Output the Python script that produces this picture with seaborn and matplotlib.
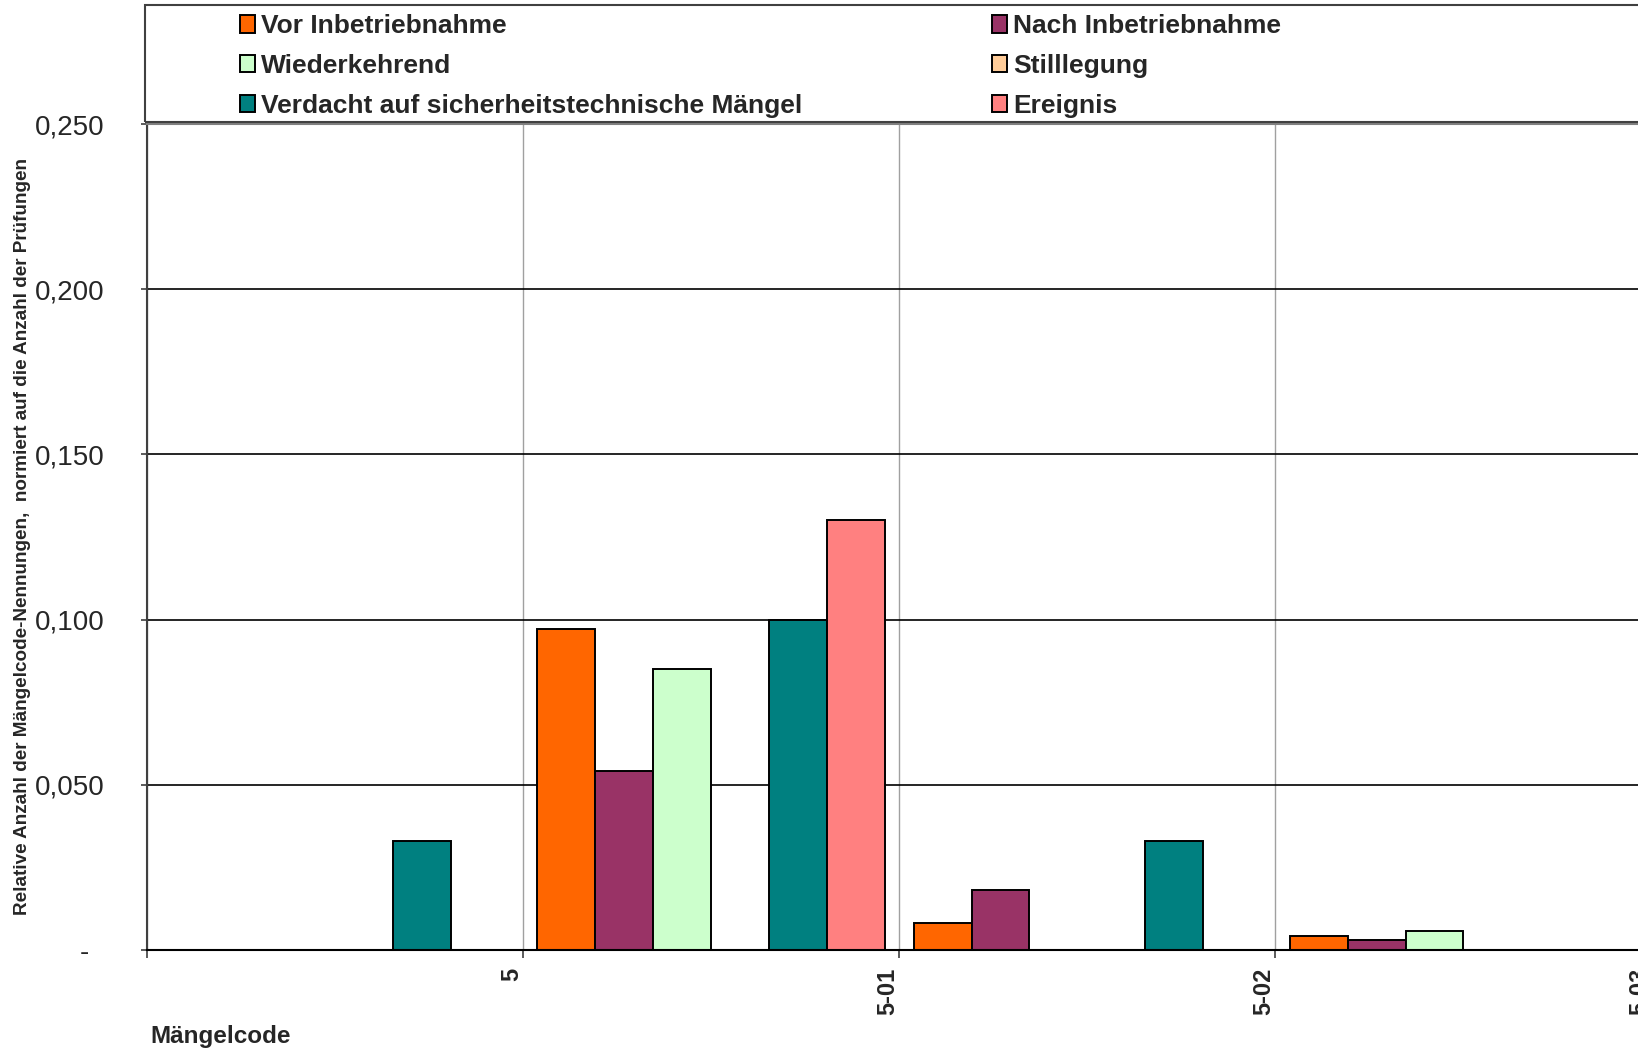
import numpy as np
import pandas as pd
import matplotlib
matplotlib.use("Agg")
import matplotlib.pyplot as plt
from matplotlib.patches import Patch, Rectangle
import seaborn as sns

# Mängelcodes (tick label sits at the right edge of each group)
codes = ["5", "5-01", "5-02", "5-03"]
series = ["Vor Inbetriebnahme", "Nach Inbetriebnahme", "Wiederkehrend",
          "Stilllegung", "Verdacht auf sicherheitstechnische Mängel", "Ereignis"]
colors = ["#FF6600", "#993366", "#CCFFCC", "#FFCC99", "#008080", "#FF8080"]

# relative values per series, one entry per group
vor = [0.0, 0.097, 0.008, 0.004]
nach = [0.0, 0.054, 0.018, 0.003]
wieder = [0.0, 0.085, 0.0, 0.0057]
still = [0.0, 0.0, 0.0, 0.0]
verdacht = [0.033, 0.100, 0.033, 0.0]
ereignis = [0.0, 0.130, 0.0, 0.0]

yticks = [0.0, 0.05, 0.10, 0.15, 0.20, 0.25]
ytick_labels = ["-  ", "0,050", "0,100", "0,150", "0,200", "0,250"]

values = [vor, nach, wieder, still, verdacht, ereignis]
df = pd.DataFrame({
    "code": codes * len(series),
    "serie": np.repeat(series, len(codes)),
    "wert": np.concatenate(values),
})

sns.set_style("white")
plt.rcParams["font.family"] = ["Liberation Sans", "DejaVu Sans"]

fig = plt.figure(figsize=(16.38, 10.52), dpi=100)
ax = fig.add_axes([0.0898, 0.0973, 0.9414, 0.7845])

sns.barplot(data=df, x="code", y="wert", hue="serie", order=codes,
            hue_order=series, palette=dict(zip(series, colors)),
            saturation=1, width=0.924, edgecolor="black", linewidth=1.4,
            legend=False, ax=ax)

ax.set_xlim(-0.5, 3.6)
ax.set_ylim(0, 0.25)
ax.set_axisbelow(True)

# gridlines: black horizontal, grey vertical at the group borders
ax.set_yticks(yticks)
ax.set_yticklabels(ytick_labels, fontsize=20)
ax.set_xticks(np.arange(-0.5, 4.0, 1.0))
ax.set_xticklabels([""] + codes, fontsize=17, fontweight="bold",
                   rotation=90, ha="right")
ax.yaxis.grid(True, color="black", lw=1.2)
ax.xaxis.grid(True, color="#a0a0a0", lw=1.0)
ax.tick_params(axis="y", direction="out", length=4.5, width=1.2, pad=26,
               left=True, color="#404040")
ax.tick_params(axis="x", direction="out", length=6, width=1.2, pad=7,
               bottom=True, color="#404040")

for side in ["left", "bottom", "top", "right"]:
    ax.spines[side].set_visible(True)
ax.spines["left"].set_color("#404040")
ax.spines["left"].set_linewidth(1.5)
ax.spines["bottom"].set_color("black")
ax.spines["bottom"].set_linewidth(1.5)
ax.spines["top"].set_color("#808080")
ax.spines["top"].set_linewidth(1.5)

ax.set_xlabel("")
ax.set_ylabel("")
fig.text(23 / 1638, 0.4897,
         "Relative Anzahl der Mängelcode-Nennungen,  normiert auf die Anzahl der Prüfungen",
         rotation=90, ha="center", va="center", fontsize=13.6, fontweight="bold")
fig.text(150 / 1638, 1 - 1036 / 1052, "Mängelcode", ha="left", va="center",
         fontsize=17.5, fontweight="bold")

# legend frame across the top
fig.patches.append(Rectangle((145 / 1638, 1 - 122 / 1052), 1.0, 117 / 1052,
                             transform=fig.transFigure, fill=False,
                             ec="#404040", lw=1.5))

handles = [Patch(facecolor=c, edgecolor="black", lw=1.4) for c in colors]
leg_kw = dict(loc="upper left", frameon=False, borderpad=0, borderaxespad=0,
              handlelength=0.55, handleheight=0.65, handletextpad=0.25,
              labelspacing=0.6, prop={"size": 19, "weight": "bold"})
fig.legend([handles[0], handles[2], handles[4]],
           [series[0], series[2], series[4]],
           bbox_to_anchor=(240 / 1638, 1 - 14 / 1052), **leg_kw)
fig.legend([handles[1], handles[3], handles[5]],
           [series[1], series[3], series[5]],
           bbox_to_anchor=(992 / 1638, 1 - 14 / 1052), **leg_kw)

fig.savefig("out.png", dpi=100)
